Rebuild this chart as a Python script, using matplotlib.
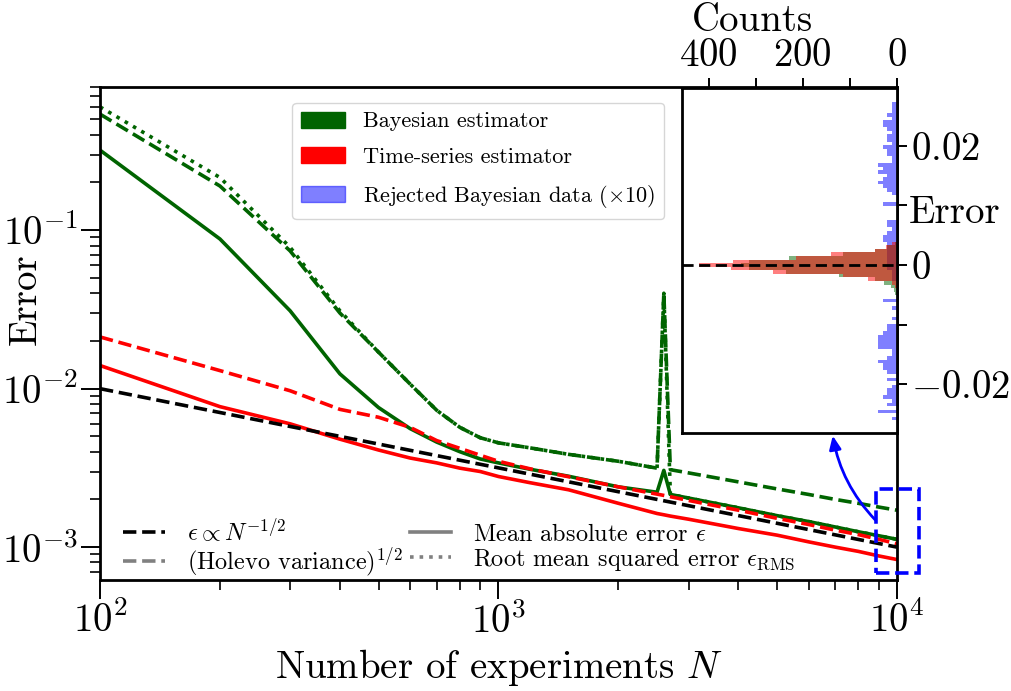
import numpy as np
import matplotlib
matplotlib.use("Agg")
import matplotlib.pyplot as plt
from matplotlib.patches import Patch, Rectangle
from matplotlib.lines import Line2D

plt.rcParams["font.family"] = "serif"
plt.rcParams["font.serif"] = ["cmr10"]
plt.rcParams["mathtext.fontset"] = "cm"
plt.rcParams["axes.formatter.use_mathtext"] = True
plt.rcParams["axes.unicode_minus"] = True

# ----------------------------------
# Error vs number of experiments
# ----------------------------------
n_exp = [100, 200, 300, 400, 500, 600, 700, 800, 900, 1000, 1200, 1500,
         2000, 2500, 2600, 2700, 3000, 4000, 5000, 6000, 7000, 8000, 9000, 10000]

bayes_mae = [0.32, 0.088, 0.031, 0.0124, 0.0076, 0.0056, 0.0046, 0.0040, 0.0036, 0.0034,
             0.0031, 0.0028, 0.0024, 0.00222, 0.00305, 0.00215, 0.00204, 0.00177,
             0.00158, 0.00145, 0.00134, 0.00125, 0.00118, 0.00112]
bayes_hol = [0.54, 0.19, 0.074, 0.030, 0.017, 0.0107, 0.0073, 0.0057, 0.0049, 0.00455,
             0.00423, 0.00385, 0.00348, 0.00315, 0.040, 0.00308, 0.00294, 0.00258,
             0.00233, 0.00215, 0.00200, 0.00189, 0.00179, 0.00171]
bayes_rms = [0.60, 0.215, 0.078, 0.031, 0.017, 0.0107, 0.0073, 0.0057, 0.0049, 0.00455,
             0.00423, 0.00385, 0.00348, 0.00315, 0.040, 0.00215, 0.00204, 0.00177,
             0.00158, 0.00145, 0.00134, 0.00125, 0.00118, 0.00112]
ts_mae = [0.0140, 0.0077, 0.0060, 0.0048, 0.0041, 0.00365, 0.0034, 0.00315, 0.0030, 0.00279,
          0.00255, 0.0023, 0.00189, 0.00163, 0.0016, 0.00157, 0.0015, 0.00131,
          0.00119, 0.00108, 0.0010, 0.00094, 0.00088, 0.000835]
ts_hol = [0.0212, 0.0130, 0.0097, 0.0074, 0.0066, 0.0057, 0.0047, 0.0042, 0.0038, 0.00348,
          0.00312, 0.00278, 0.00240, 0.00216, 0.00212, 0.00208, 0.00197, 0.00171,
          0.00152, 0.00139, 0.00128, 0.00120, 0.00112, 0.00105]

# reference slope N^-1/2 (end points)
ref_n = [100, 10000]
ref_err = [0.01, 0.001]

# ----------------------------------
# Histogram of errors at N = 10^4 (bin index k -> error k * BIN_W)
# ----------------------------------
BIN_W = 0.0006
bayes_bins = [6, 5, 4, 3, 2, 1, 0, -1, -2, -3, -4, -5, -6, -7, -8]
bayes_counts = [4, 20, 45, 115, 228, 313, 330, 313, 235, 122, 47, 26, 12, 5, 3]
ts_bins = [6, 5, 4, 3, 2, 1, 0, -1, -2, -3, -4, -5, -6]
ts_counts = [10, 23, 47, 140, 215, 349, 420, 352, 262, 115, 60, 10, 3]
rej_bins = [45, 44, 43, 42, 41, 40, 39, 38, 37, 36, 35, 34, 33, 32, 31, 30, 29, 28, 27, 26,
            25, 24, 23, 22, 21, 20, 17, 12, 11, 10, 9, 8, 7, 6, 5, 4, 3, 2, 1, 0, -1, -2,
            -3, -4, -10, -12, -15, -17, -18, -19, -20, -21, -22, -23, -24, -25, -26, -27,
            -28, -29, -30, -32, -34, -35, -36, -37, -38, -39, -41, -43]
rej_counts = [10, 10, 10, 20, 10, 30, 30, 20, 10, 20, 20, 10, 30, 20, 20, 10, 10, 40, 30, 40,
              20, 30, 40, 30, 20, 10, 30, 20, 20, 10, 20, 30, 30, 20, 20, 20, 20, 20, 20, 20,
              20, 10, 10, 10, 30, 10, 10, 20, 20, 30, 40, 40, 40, 40, 10, 10, 20, 40, 30,
              30, 20, 20, 10, 20, 20, 30, 10, 20, 40, 10]

GREEN = "darkgreen"
RED = "red"
LW = 2.6

fig = plt.figure(figsize=(10.11, 6.91), dpi=100)
ax = fig.add_axes([0.0989, 0.1606, 0.7883, 0.7134])

ax.plot(ref_n, ref_err, "k--", lw=LW, zorder=3)
ax.plot(n_exp, bayes_rms, ":", color=GREEN, lw=LW)
ax.plot(n_exp, bayes_hol, "--", color=GREEN, lw=LW)
ax.plot(n_exp, bayes_mae, "-", color=GREEN, lw=LW)
ax.plot(n_exp, ts_hol, "--", color=RED, lw=LW)
ax.plot(n_exp, ts_mae, "-", color=RED, lw=LW)

ax.set_xscale("log")
ax.set_yscale("log")
ax.set_xlim(100, 10000)
ax.set_ylim(6.2e-4, 0.8)
ax.tick_params(which="major", labelsize=28, length=14, width=1.4, pad=2)
ax.tick_params(which="minor", length=7, width=1.2)
for s in ax.spines.values():
    s.set_linewidth(2)
ax.set_xlabel("Number of experiments $N$", fontsize=28, labelpad=4)
ax.set_ylabel("Error", fontsize=28)
ax.yaxis.set_label_coords(-0.07, 0.57)

# colour legend
leg1 = ax.legend(handles=[Patch(color=GREEN, label="Bayesian estimator"),
                          Patch(color=RED, label="Time-series estimator"),
                          Patch(color="blue", alpha=0.5,
                                label=r"Rejected Bayesian data $(\times 10)$")],
                 loc="upper left", bbox_to_anchor=(0.241, 0.968), borderaxespad=0,
                 fontsize=16, handleheight=0.72, handlelength=2.0, labelspacing=0.72)
ax.add_artist(leg1)

# line-style legend
style_handles = [Line2D([], [], color="k", ls="--", lw=LW, label=r"$\epsilon \propto N^{-1/2}$"),
                 Line2D([], [], color="gray", ls="--", lw=LW, label=r"(Holevo variance)$^{1/2}$"),
                 Line2D([], [], color="gray", ls="-", lw=LW, label=r"Mean absolute error $\epsilon$"),
                 Line2D([], [], color="gray", ls=":", lw=LW,
                        label=r"Root mean squared error $\epsilon_{\rm RMS}$")]
ax.legend(handles=style_handles, loc="lower left", ncol=2, frameon=False, fontsize=17.5,
          bbox_to_anchor=(0.002, -0.041), columnspacing=0.3, labelspacing=0.0,
          handlelength=1.7, handletextpad=0.9)

# blue dashed box marking the histogram data point
ax.add_patch(Rectangle((8850, 6.83e-4), 11350 - 8850, 0.00234 - 6.83e-4, fill=False,
                       ec="blue", ls="--", lw=2.6, clip_on=False, zorder=5))
ax.annotate("", xy=(6900, 0.00505), xytext=(8810, 0.00149),
            arrowprops=dict(arrowstyle="-|>,head_length=0.8,head_width=0.35", color="blue",
                            lw=2, shrinkA=0, shrinkB=0, connectionstyle="arc3,rad=-0.15"),
            annotation_clip=False, zorder=6)

# ----------------------------------
# Inset histogram
# ----------------------------------
axin = fig.add_axes([0.6743, 0.3734, 0.2126, 0.4993])
axin.barh(np.array(rej_bins) * BIN_W, rej_counts, height=BIN_W, color="blue", alpha=0.5, lw=0)
axin.barh(np.array(bayes_bins) * BIN_W, bayes_counts, height=BIN_W, color=GREEN, alpha=0.5, lw=0)
axin.barh(np.array(ts_bins) * BIN_W, ts_counts, height=BIN_W, color=RED, alpha=0.5, lw=0)
axin.axhline(0, color="k", ls="--", lw=2, dashes=(4, 2))
axin.set_xlim(457, 0)
axin.set_ylim(-0.0282, 0.0297)
axin.xaxis.tick_top()
axin.yaxis.tick_right()
axin.set_xticks([400, 300, 200, 100, 0])
axin.set_xticklabels(["$400$", "", "$200$", "", "$0$"])
axin.set_yticks([-0.02, -0.01, 0, 0.01, 0.02])
axin.set_yticklabels(["$-0.02$", "", "$0$", "", "$0.02$"])
axin.tick_params(labelsize=28, length=7, width=1.4, pad=3)
for s in axin.spines.values():
    s.set_linewidth(2)
axin.set_xlabel("Counts", fontsize=28)
axin.xaxis.set_label_position("top")
axin.xaxis.set_label_coords(0.33, 1.165)
axin.set_ylabel("Error", fontsize=28, rotation=0)
axin.yaxis.set_label_position("right")
axin.yaxis.set_label_coords(1.27, 0.69)

fig.savefig("out.png", dpi=100)
